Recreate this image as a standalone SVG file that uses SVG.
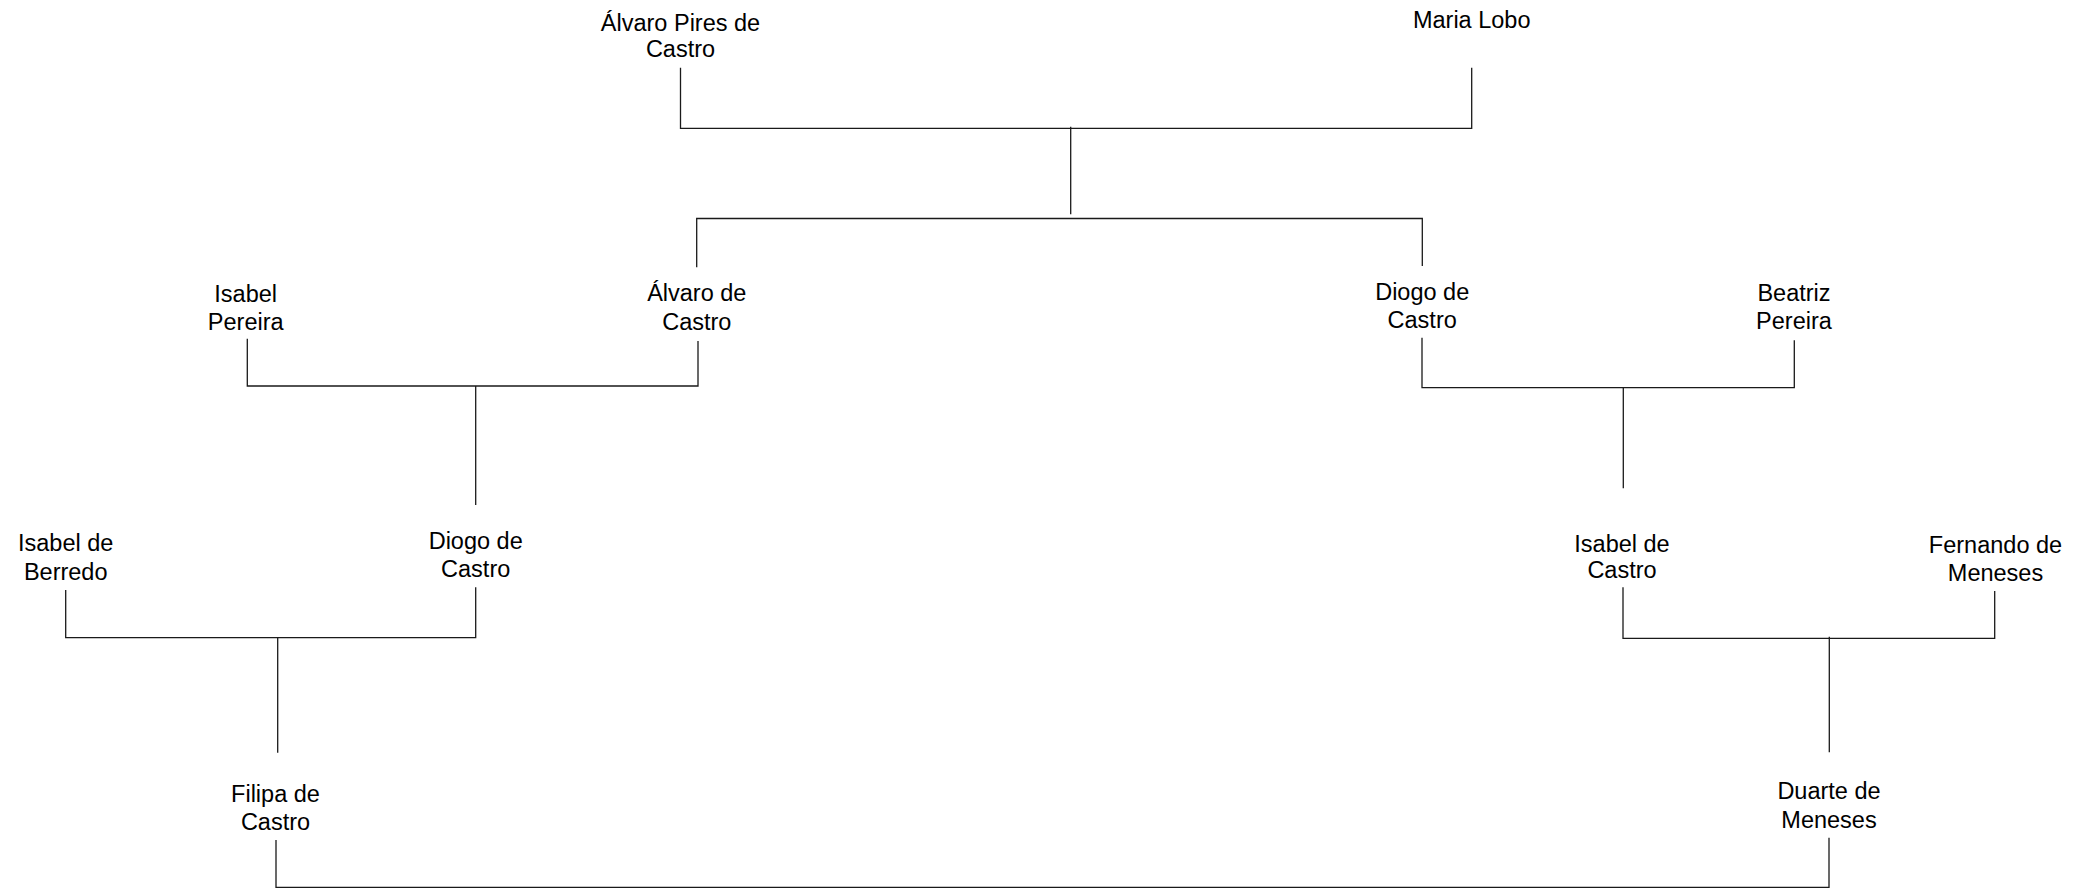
<svg xmlns="http://www.w3.org/2000/svg" width="2093" height="889" viewBox="0 0 2093 889">
<style>
text{font-family:"Liberation Sans",Arial,sans-serif;font-size:23.5px;fill:#000;text-anchor:middle}
.c path{fill:none;stroke:#1a1a1a;stroke-width:1.3}
</style>
<rect width="2093" height="889" fill="#fff"/>
<g class="c" id="connectors">
<path d="M680.5 67.7V128.3H1471.7V67.7"/>
<path d="M1070.7 126.7V214.3"/>
<path d="M696.7 267.3V218.5H1422.3V266"/>
<path d="M247.3 338.7V386H698V341"/>
<path d="M475.7 386V505"/>
<path d="M1422 337.7V387.7H1794.3V340.3"/>
<path d="M1623.3 387.7V488.3"/>
<path d="M65.7 590V637.7H475.7V587.3"/>
<path d="M277.7 637.7V752.7"/>
<path d="M1623 587.3V638.3H1994.7V591"/>
<path d="M1829.3 636.7V752.3"/>
<path d="M276 840V887.3H1829V837.7"/>
</g>
<g id="alvaro-pires"><text x="680.5" y="30.7">Álvaro Pires de</text><text x="680.5" y="57.3">Castro</text></g>
<g id="maria-lobo"><text x="1471.7" y="28.3">Maria Lobo</text></g>
<g id="isabel-pereira"><text x="245.7" y="301.5">Isabel</text><text x="245.7" y="330">Pereira</text></g>
<g id="alvaro-castro"><text x="696.8" y="300.7">Álvaro de</text><text x="696.8" y="330">Castro</text></g>
<g id="diogo-castro-1"><text x="1422.2" y="300">Diogo de</text><text x="1422.2" y="328.3">Castro</text></g>
<g id="beatriz-pereira"><text x="1794" y="300.7">Beatriz</text><text x="1794" y="329.3">Pereira</text></g>
<g id="isabel-berredo"><text x="65.7" y="551">Isabel de</text><text x="65.7" y="580">Berredo</text></g>
<g id="diogo-castro-2"><text x="475.7" y="549">Diogo de</text><text x="475.7" y="576.7">Castro</text></g>
<g id="isabel-castro"><text x="1622" y="551.7">Isabel de</text><text x="1622" y="577.7">Castro</text></g>
<g id="fernando-meneses"><text x="1995.5" y="553.3">Fernando de</text><text x="1995.5" y="581">Meneses</text></g>
<g id="filipa-castro"><text x="275.5" y="801.7">Filipa de</text><text x="275.5" y="830">Castro</text></g>
<g id="duarte-meneses"><text x="1829" y="799.3">Duarte de</text><text x="1829" y="828.3">Meneses</text></g>
</svg>
